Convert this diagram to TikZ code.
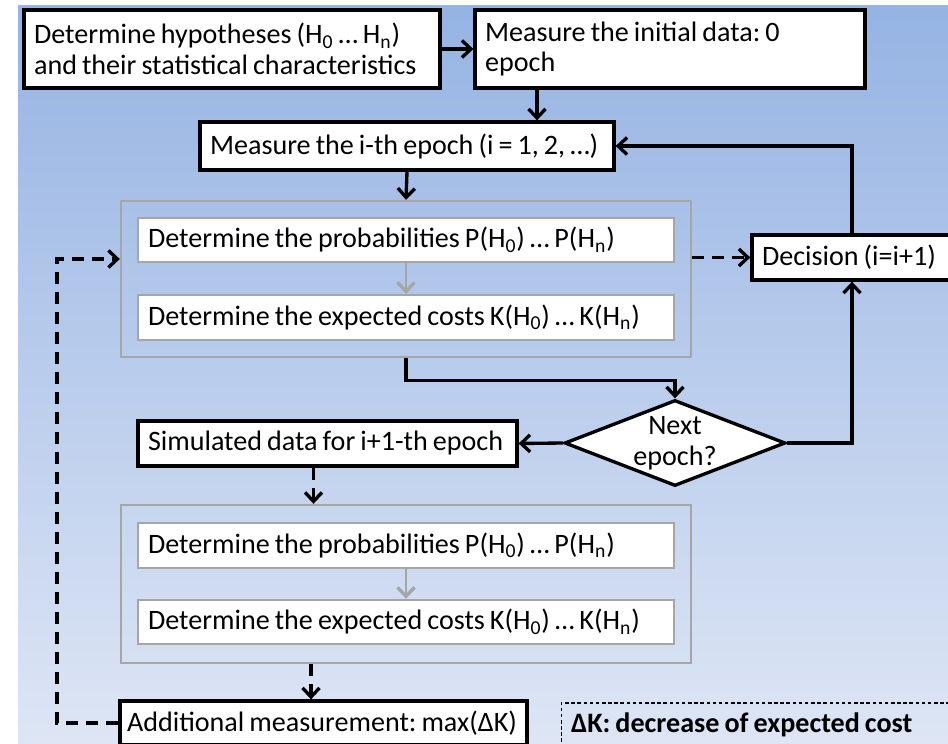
\documentclass[tikz,border=0pt]{standalone}
\usepackage{fontspec}
\setmainfont{Carlito}
\usetikzlibrary{shapes.geometric,arrows.meta}

\definecolor{bgtop}{RGB}{149,179,227}
\definecolor{bgbot}{RGB}{222,230,245}
\definecolor{grau}{RGB}{166,166,166}

\newcommand{\boxfont}{\fontsize{16}{17.6}\selectfont\frenchspacing}

\tikzset{
	box/.style={draw=black, fill=white, line width=1.9pt, inner xsep=0.2cm, inner ysep=0pt, align=left, font=\boxfont,
		execute at begin node={\spaceskip=0.18em plus 0.05em\relax}},
	grpbox/.style={draw=grau, line width=1.4pt, inner sep=0pt},
	innerbox/.style={box, draw=grau, line width=1.4pt},
	arr/.style={line width=1.9pt, -{Straight Barb[length=0.18cm, width=0.34cm, line width=1.9pt]}},
	dasharr/.style={arr, dash pattern=on 0.24cm off 0.16cm},
	grayarr/.style={arr, draw=grau, line width=1.4pt}
}

\begin{document}
\begin{tikzpicture}[x=0.02cm, y=-0.02cm]
	\useasboundingbox (0,0) rectangle (948,744);
	\clip (0,0) rectangle (948,744);
	\shade[top color=bgtop, bottom color=bgbot] (18,5) rectangle (948,744); % Hintergrund
	
	% obere Kaesten
	\node[box, text width=7.92cm, minimum height=1.56cm] (hyp) at (232,49) {Determine hypotheses (H\textsubscript{0} … H\textsubscript{n})\\and their statistical characteristics};
	\node[box, text width=7.4cm, minimum height=1.56cm] (init) at (670,49) {Measure the initial data: 0\\epoch};
	\node[box, text width=7.88cm, minimum height=0.96cm] (meas) at (407,146) {Measure the i-th epoch (i = 1, 2, …)};
	
	% erste Gruppe
	\node[grpbox, minimum width=11.4cm, minimum height=3.12cm] (grp1) at (406,279) {};
	\node[innerbox, text width=10.32cm, minimum height=0.88cm] (p1) at (406,240) {Determine the probabilities P(H\textsubscript{0}) … P(H\textsubscript{n})};
	\node[innerbox, text width=10.32cm, minimum height=0.9cm] (k1) at (406,317.5) {Determine the expected costs K(H\textsubscript{0}) … K(H\textsubscript{n})};
	
	\node[box, text width=3.6cm, minimum height=0.9cm] (dec) at (852,257.5) {Decision (i=i+1)};
	
	% Raute
	\node[diamond, draw, fill=white, line width=1.9pt, minimum width=4.42cm, minimum height=1.72cm, inner sep=0pt] (nxt) at (675,443) {};
	\node[align=center, font=\boxfont] at (nxt) {Next\\epoch?};
	
	\node[box, text width=7.18cm, minimum height=0.9cm] (sim) at (327.5,443.5) {Simulated data for i+1-th epoch};
	
	% zweite Gruppe
	\node[grpbox, minimum width=11.4cm, minimum height=3.16cm] (grp2) at (406,584) {};
	\node[innerbox, text width=10.32cm, minimum height=0.9cm] (p2) at (406,545.5) {Determine the probabilities P(H\textsubscript{0}) … P(H\textsubscript{n})};
	\node[innerbox, text width=10.32cm, minimum height=0.88cm] (k2) at (406,622) {Determine the expected costs K(H\textsubscript{0}) … K(H\textsubscript{n})};
	
	\node[box, inner xsep=0.14cm, text width=7.86cm, minimum height=0.88cm] (add) at (323.5,723) {Additional measurement: max(ΔK)};
	\node[box, draw=black, fill=none, line width=0.6pt, dash pattern=on 2pt off 1.5pt, text width=8.4cm, minimum height=0.88cm, font=\boxfont\bfseries] (leg) at (781,725) {ΔK: decrease of expected cost};
	
	\coordinate (loop) at (57,259);
	
	% Pfeile
	\draw[arr] (hyp.east) -- (init.west);
	\draw[arr] (init.south -| 537,0) -- (meas.north -| 537,0);
	\draw[arr] (meas.south) -- (grp1.north);
	\draw[grayarr] (p1.south) -- (k1.north);
	\draw[grayarr] (p2.south) -- (k2.north);
	\draw[dasharr] (grp1.east |- dec.west) -- (dec.west);
	\draw[arr] (dec.north) |- (meas.east);
	\draw[arr] (grp1.south) -- ++(0,22) -| (nxt.north);
	\draw[arr] (nxt.west) -- (sim.east);
	\draw[arr] (nxt.east) -| (dec.south);
	\draw[dasharr] ([xshift=-0.28cm]sim.south) -- ([xshift=-0.28cm]sim.south |- grp2.north);
	\draw[dasharr] ([xshift=-1.9cm]grp2.south) -- ([xshift=-1.9cm]grp2.south |- add.north);
	\draw[dasharr] (add.west) -| (loop) -- (grp1.west |- loop);
\end{tikzpicture}
\end{document}
